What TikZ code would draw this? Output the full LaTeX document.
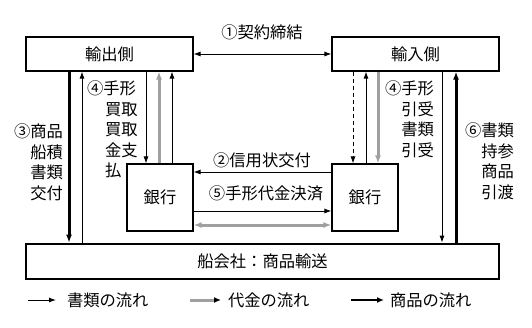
\documentclass[tikz,border=0pt]{standalone}
\usepackage{fontspec}
\setmainfont{Noto Sans CJK JP}
\usetikzlibrary{arrows.meta}
\definecolor{paygray}{HTML}{A0A0A0}
\begin{document}
\begin{tikzpicture}[x=1pt,y=-1pt,
  font=\fontsize{16.3}{20.5}\selectfont,
  box/.style={draw, line width=1.1pt, inner sep=0pt},
  docflow/.style={line width=0.9pt, -{Latex[length=7pt,width=5pt]}},
  docdash/.style={docflow, dash pattern=on 4pt off 3pt},
  payflow/.style={line width=3pt, paygray, -{Latex[length=8pt,width=6pt]}},
  goodsflow/.style={line width=3pt, -{Latex[length=8pt,width=6pt]}},
  lbl/.style={inner sep=0pt, outer sep=0pt}]
\useasboundingbox (0,0) rectangle (532,327);

% boxes
\node[box, minimum width=167pt, minimum height=34pt] (exp) at (109.5,54) {輸出側};
\node[box, minimum width=167pt, minimum height=34pt] (imp) at (415.5,54) {輸入側};
\node[box, minimum width=66pt, minimum height=67pt] (bankL) at (160,197.5) {銀行};
\node[box, minimum width=66pt, minimum height=67pt] (bankR) at (365,197.5) {銀行};
\node[box, line width=2.8pt, minimum width=473pt, minimum height=35pt] (ship) at (262.5,261.5) {船会社：商品輸送};

% column coordinates
\coordinate (c1) at (69,0);
\coordinate (c2) at (82,0);
\coordinate (c3) at (146,0);
\coordinate (c4) at (159,0);
\coordinate (c5) at (172,0);
\coordinate (c6) at (353,0);
\coordinate (c7) at (366,0);
\coordinate (c8) at (378,0);
\coordinate (c9) at (442,0);
\coordinate (c10) at (456,0);
% row coordinates
\coordinate (r1) at (0,172);
\coordinate (r2) at (0,211);
\coordinate (r3) at (0,225);

% contract
\draw[line width=0.9pt, {Latex[length=7pt,width=5pt]}-{Latex[length=7pt,width=5pt]}] (exp.east) -- (imp.west);
\node[lbl] (lcontract) at (262,32) {①契約締結};

% exporter side
\draw[goodsflow] (exp.south -| c1) -- (ship.north -| c1);
\draw[docflow] (ship.north -| c2) -- (exp.south -| c2);
\draw[docflow] (exp.south -| c3) -- (bankL.north -| c3);
\draw[payflow] (bankL.north -| c4) -- (exp.south -| c4);
\draw[docflow] (bankL.north -| c5) -- (exp.south -| c5);

% importer side
\draw[docdash] (imp.south -| c6) -- (bankR.north -| c6);
\draw[docflow] (bankR.north -| c7) -- (imp.south -| c7);
\draw[payflow] (imp.south -| c8) -- (bankR.north -| c8);
\draw[docflow] (imp.south -| c9) -- (ship.north -| c9);
\draw[goodsflow] (ship.north -| c10) -- (imp.south -| c10);

% between banks
\draw[docflow] (bankR.west |- r1) -- (bankL.east |- r1);
\draw[docflow] (bankL.east |- r2) -- (bankR.west |- r2);
\draw[line width=3pt, paygray, {Latex[length=8pt,width=6pt]}-{Latex[length=8pt,width=6pt]}] (bankR.west |- r3) -- (bankL.east |- r3);
\node[lbl] (l2) at (262,160) {②信用状交付};
\node[lbl] (l5) at (266,193) {⑤手形代金決済};

% side labels
\node[lbl, anchor=north east, align=right] (l3) at (63,124) {③商品\\船積\\書類\\交付};
\node[lbl, anchor=north west, align=left] (l4a) at (87,81) {④手形\\\hspace*{18pt}買取\\\hspace*{18pt}買取\\\hspace*{18pt}金支\\\hspace*{18pt}払};
\node[lbl, anchor=north east, align=right] (l4b) at (434,81) {④手形\\引受\\書類\\引受};
\node[lbl, anchor=north east, align=right] (l6) at (514,123) {⑥書類\\持参\\商品\\引渡};

% legend
\coordinate (la1) at (28,300);
\coordinate (la2) at (56,300);
\coordinate (lb1) at (190,300);
\coordinate (lb2) at (221,300);
\coordinate (lc1) at (351,300);
\coordinate (lc2) at (384,300);
\draw[docflow] (la1) -- (la2);
\draw[line width=3pt, paygray, -{Latex[length=7pt,width=6pt,color=black]}] (lb1) -- (lb2);
\draw[line width=2.4pt, -{Latex[length=7pt,width=6pt]}] (lc1) -- (lc2);
\node[lbl, anchor=west] (lega) at (67,300) {書類の流れ};
\node[lbl, anchor=west] (legb) at (228,300) {代金の流れ};
\node[lbl, anchor=west] (legc) at (390,300) {商品の流れ};
\end{tikzpicture}
\end{document}
